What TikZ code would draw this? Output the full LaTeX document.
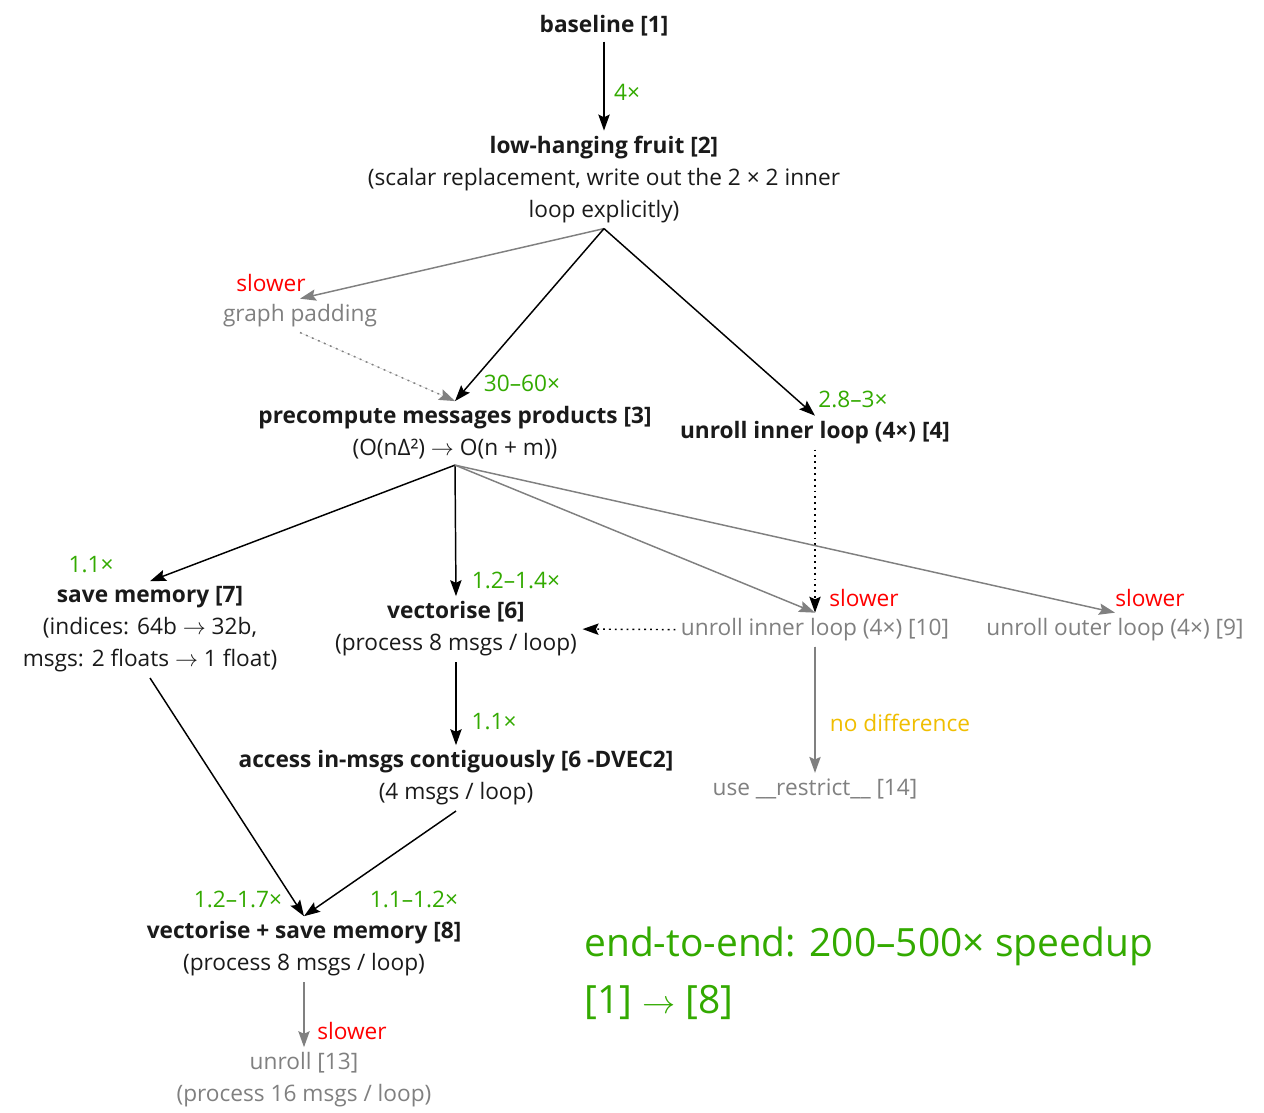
\documentclass[tikz,border=0pt]{standalone}
\usepackage{fontspec}
\setmainfont{Open Sans}
\newcommand{\toarrow}{\ensuremath{\rightarrow}}
\usetikzlibrary{arrows.meta}
\definecolor{gain}{RGB}{51,170,0}
\definecolor{worse}{RGB}{255,0,0}
\definecolor{neutral}{RGB}{240,190,0}
\definecolor{dim}{RGB}{128,128,128}
\definecolor{ink}{RGB}{26,26,26}
\begin{document}
\begin{tikzpicture}[x=0.75pt,y=-0.75pt,
  every node/.style={font=\fontsize{17}{24}\selectfont, align=center, inner sep=4pt, yshift=-1.2pt},
  stage/.style={text=ink},
  tried/.style={text=dim},
  speedup/.style={text=gain, inner sep=0pt},
  slowdown/.style={text=worse, inner sep=0pt},
  nochange/.style={text=neutral, inner sep=0pt},
  tip/.style={-{Stealth[length=12pt,width=8.5pt,inset=2pt]}},
  blk/.style={tip, draw=black, line width=1.1pt},
  gry/.style={tip, draw=dim, fill=dim, line width=1.1pt},
  dotblk/.style={blk, dash pattern=on 1.4pt off 3pt},
  dotgry/.style={gry, dash pattern=on 1.4pt off 3.5pt},
]
\useasboundingbox[fill=white] (0,0) rectangle (1264,1113);

% main stages
\node[stage] (n1) at (604,24) {\textbf{baseline [1]}};
\node[stage] (n2) at (604,178) {\textbf{low-hanging fruit [2]}\\(scalar replacement, write out the 2 × 2 inner\\loop explicitly)};
\node[tried] (gp) at (300,314) {graph padding};
\node[stage] (n3) at (455,431.5) {\textbf{precompute messages products [3]}\\(O(nΔ²) \toarrow{} O(n + m))};
\node[stage] (n4) at (815,431) {\textbf{unroll inner loop (4×) [4]}};
\node[stage] (n7) at (150,628) {\textbf{save memory [7]}\\(indices: 64b \toarrow{} 32b,\\msgs: 2 floats \toarrow{} 1 float)};
\node[stage] (n6) at (456,627.5) {\textbf{vectorise [6]}\\(process 8 msgs / loop)};
\node[tried] (n10) at (815,628) {unroll inner loop (4×) [10]};
\node[tried] (n9) at (1115,628) {unroll outer loop (4×) [9]};
\node[tried] (n14) at (815,787) {use \_\_restrict\_\_ [14]};
\node[stage] (n62) at (456,776.5) {\textbf{access in-msgs contiguously [6 -DVEC2]}\\(4 msgs / loop)};
\node[stage] (n8) at (304,947.5) {\textbf{vectorise + save memory [8]}\\(process 8 msgs / loop)};
\node[tried] (n13) at (304,1078.5) {unroll [13]\\(process 16 msgs / loop)};

% edge labels
\node[speedup] (l12) at (627,91) {4×};
\node[slowdown] (lgp) at (271,281) {slower};
\node[speedup] (l23) at (522,382) {30–60×};
\node[speedup] (l24) at (853,398) {2.8–3×};
\node[speedup] (l37) at (91,563) {1.1×};
\node[speedup] (l36) at (516,579) {1.2–1.4×};
\node[slowdown] (l310) at (864,596) {slower};
\node[slowdown] (l39) at (1150,596) {slower};
\node[nochange] (l1014) at (900,721) {no difference};
\node[speedup] (l662) at (494,720) {1.1×};
\node[speedup] (l78) at (238,898) {1.2–1.7×};
\node[speedup] (l628) at (414,898) {1.1–1.2×};
\node[slowdown] (l813) at (352,1029) {slower};

% summary
\node[text=gain, font=\fontsize{29.2}{42.75}\selectfont, align=left, anchor=west, inner sep=0pt] (sum) at (584,971.5) {end-to-end: 200–500× speedup\\{[1]} \toarrow{} [8]};

% connectors
\draw[blk] (n1) -- (n2);
\draw[gry] (n2.south) -- (gp.north);
\draw[blk] (n2.south) -- (n3.north);
\draw[blk] (n2.south) -- (n4.north);
\draw[dotgry] (gp.south) -- (n3.north);
\draw[dotblk] (n4.south) -- (n10.north);
\draw[blk] (n3.south) -- (n7.north);
\draw[blk] (n3.south) -- (n6.north);
\draw[gry] (n3.south) -- (n10.north);
\draw[gry] (n3.south) -- (n9.north);
\draw[dotblk] (n10.west) -- (n6.east);
\draw[gry] (n10.south) -- (n14.north);
\draw[blk] (n6.south) -- (n62.north);
\draw[blk] (n7.south) -- (n8.north);
\draw[blk] (n62.south) -- (n8.north);
\draw[gry] (n8.south) -- (n13.north);
\end{tikzpicture}
\end{document}
